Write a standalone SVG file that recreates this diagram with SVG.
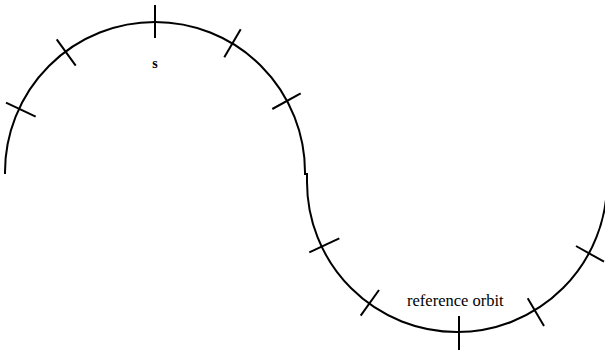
<svg xmlns="http://www.w3.org/2000/svg" width="605" height="352" viewBox="0 0 605 352">
<style>
.orbit{fill:none;stroke:#000;stroke-width:2}
.tick{stroke:#000;stroke-width:2}
.lbl{font-family:"Liberation Serif",serif;fill:#000}
</style>
<rect width="605" height="352" fill="#fff"/>
<g id="connectors">
<path class="orbit" d="M5 174 L5 172 A150 150 0 0 1 305 172 L305 174 L307 174 L307 182 A150 150 0 0 0 607 182"/>
</g>
<g id="ticks">
<line class="tick" x1="155" y1="5" x2="155" y2="38"/>
<line class="tick" x1="56.7" y1="39.3" x2="75.7" y2="65.7"/>
<line class="tick" x1="6" y1="102.7" x2="35.7" y2="116.7"/>
<line class="tick" x1="240.7" y1="29.3" x2="224.3" y2="57.3"/>
<line class="tick" x1="300.7" y1="93.3" x2="272.3" y2="109"/>
<line class="tick" x1="339.3" y1="238.3" x2="309.3" y2="252.3"/>
<line class="tick" x1="379" y1="290" x2="360.7" y2="315.7"/>
<line class="tick" x1="459" y1="316" x2="459" y2="350"/>
<line class="tick" x1="527.7" y1="298.3" x2="544" y2="326"/>
<line class="tick" x1="576" y1="246" x2="604" y2="261.7"/>
</g>
<g id="label-s">
<text class="lbl" x="155" y="68" font-size="14" font-weight="bold" text-anchor="middle">s</text>
</g>
<g id="label-orbit">
<text class="lbl" x="407" y="306" font-size="16.5">reference orbit</text>
</g>
</svg>
